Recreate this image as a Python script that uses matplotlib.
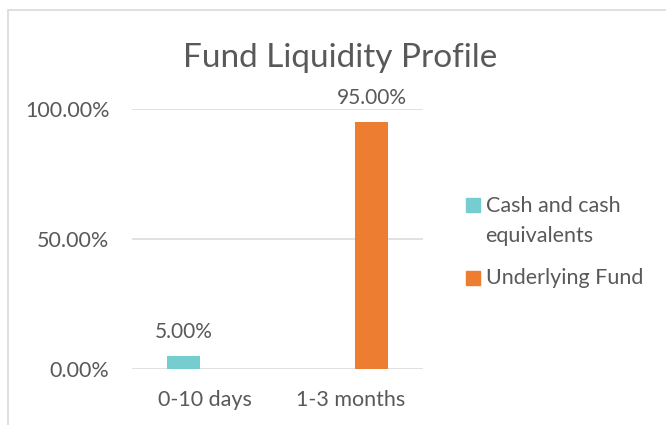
import matplotlib
matplotlib.use('Agg')
import matplotlib.pyplot as plt
import numpy as np
from matplotlib.patches import Rectangle

# data
categories = ['0-10 days', '1-3 months']
series_names = ['Cash and cash\nequivalents', 'Underlying Fund']
cash = [5.0, np.nan]
underlying = [np.nan, 95.0]
y_ticks = [0, 50, 100]

TEAL = '#76CDD0'
ORANGE = '#ED7D31'
TEXT = '#595959'
GRID = '#D9D9D9'
W, H = 666, 425

plt.rcParams['font.family'] = ['Lato', 'DejaVu Sans']

fig = plt.figure(figsize=(W / 100, H / 100), dpi=100)
ax = fig.add_axes([0.1977, 0.1306, 0.4375, 0.6118])

# chart frame (cut off on right/bottom like the screenshot)
fig.patches.append(Rectangle((8 / W, -0.1), 1.2, (H - 10) / H + 0.1,
                             transform=fig.transFigure, fill=False,
                             edgecolor=GRID, linewidth=1.2))

x = np.arange(len(categories))
width = 0.226
offset = 0.146
bars_cash = ax.bar(x - offset, cash, width, color=TEAL, zorder=3)
bars_under = ax.bar(x + offset, underlying, width, color=ORANGE, zorder=3)

for bars, vals in [(bars_cash, cash), (bars_under, underlying)]:
    for b, v in zip(bars, vals):
        if np.isnan(v):
            continue
        ax.annotate(f'{v:.2f}%', (b.get_x() + b.get_width() / 2, v),
                    xytext=(0, 13.5), textcoords='offset points',
                    ha='center', va='baseline', fontsize=15, color=TEXT)

ax.set_xlim(-0.5, 1.5)
ax.set_ylim(0, 100)
ax.set_yticks(y_ticks)
ax.set_yticklabels([f'{t:.2f}%' for t in y_ticks])
ax.set_xticks(x)
ax.set_xticklabels(categories)
ax.tick_params(axis='both', length=0, labelsize=15.5, labelcolor=TEXT)
ax.tick_params(axis='y', pad=16)
ax.tick_params(axis='x', pad=15)
ax.grid(axis='y', color=GRID, linewidth=1.1, zorder=0)
for s in ax.spines.values():
    s.set_visible(False)

fig.text(340 / W, 1 - 66.7 / H, 'Fund Liquidity Profile', ha='center',
         va='baseline', fontsize=24, color=TEXT)

# legend, drawn by hand so the swatch sits on the first line of a wrapped entry
legend_colors = [TEAL, ORANGE]
legend_baselines = [212.3, 284.5]
for name, col, base in zip(series_names, legend_colors, legend_baselines):
    fig.patches.append(Rectangle((466 / W, 1 - base / H), 14 / W, 14 / H,
                                 transform=fig.transFigure, color=col))
    for i, line in enumerate(name.split('\n')):
        fig.text(485.5 / W, 1 - (base + i * 29.4) / H, line, ha='left',
                 va='baseline', fontsize=15.5, color=TEXT)

plt.savefig('out.png', dpi=100)
